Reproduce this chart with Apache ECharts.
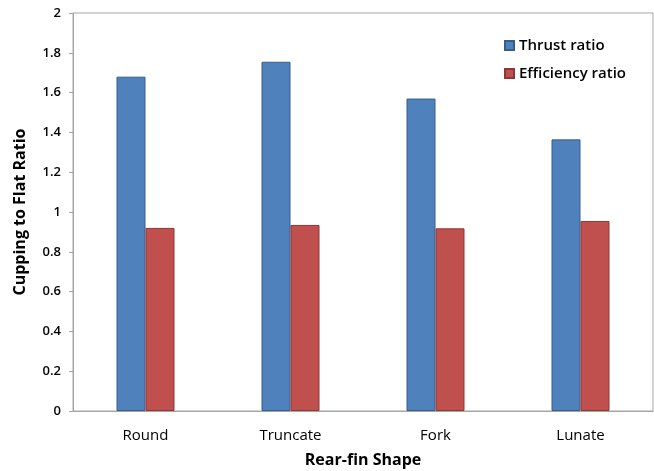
<!DOCTYPE html>
<html><head><meta charset="utf-8">
<script src="https://cdn.jsdelivr.net/npm/echarts@6/dist/echarts.min.js"></script>
<style>html,body{margin:0;padding:0;background:#fff}#c{width:654px;height:471px}</style>
</head><body><div id="c"></div>
<script>
const categories = ["Round", "Truncate", "Fork", "Lunate"];
const thrustRatio = [1.68, 1.755, 1.57, 1.365];
const efficiencyRatio = [0.92, 0.935, 0.918, 0.955];
const yTicks = [0, 0.2, 0.4, 0.6, 0.8, 1, 1.2, 1.4, 1.6, 1.8, 2];

const chart = echarts.init(document.getElementById('c'), null, {renderer: 'canvas'});
const font = '"Open Sans", "DejaVu Sans", sans-serif';
chart.setOption({
  animation: false,
  backgroundColor: '#fff',
  grid: {left: 73, top: 13, right: 1, bottom: 60, containLabel: false, outerBoundsMode: 'none',
    show: true, borderColor: '#a6a6a6', borderWidth: 1},
  legend: {
    orient: 'vertical', left: 499, top: 33, itemWidth: 9, itemHeight: 9, itemGap: 13,
    icon: 'rect',
    textStyle: {fontFamily: font, fontSize: 15, color: '#000', fontWeight: 600},
    data: ['Thrust ratio', 'Efficiency ratio']
  },
  xAxis: {
    type: 'category', data: categories,
    name: 'Rear-fin Shape', nameLocation: 'middle', nameGap: 41,
    nameTextStyle: {fontFamily: font, fontSize: 16, fontWeight: 'bold', color: '#000'},
    axisLine: {lineStyle: {color: '#a6a6a6'}},
    axisTick: {show: false},
    axisLabel: {fontFamily: font, fontSize: 15, color: '#000', fontWeight: 500, margin: 17}
  },
  yAxis: {
    type: 'value', min: 0, max: 2, interval: 0.2,
    name: 'Cupping to Flat Ratio', nameLocation: 'middle', nameGap: 45,
    nameTextStyle: {fontFamily: font, fontSize: 16, fontWeight: 'bold', color: '#000'},
    axisLine: {show: true, lineStyle: {color: '#a6a6a6'}},
    axisTick: {show: true, length: 4, lineStyle: {color: '#a6a6a6'}},
    splitLine: {show: false},
    axisLabel: {fontFamily: font, fontSize: 13, color: '#000', fontWeight: 600, margin: 12,
      formatter: v => { const t = yTicks.find(x => Math.abs(x - v) < 1e-9); return t === undefined ? '' : String(t); }}
  },
  series: [
    {name: 'Thrust ratio', type: 'bar', data: thrustRatio, barWidth: 29, barGap: '0%',
      itemStyle: {color: '#4F81BD', borderColor: '#385D8A', borderWidth: 1}},
    {name: 'Efficiency ratio', type: 'bar', data: efficiencyRatio, barWidth: 29,
      itemStyle: {color: '#C0504D', borderColor: '#8C3836', borderWidth: 1}}
  ]
});
</script></body></html>
